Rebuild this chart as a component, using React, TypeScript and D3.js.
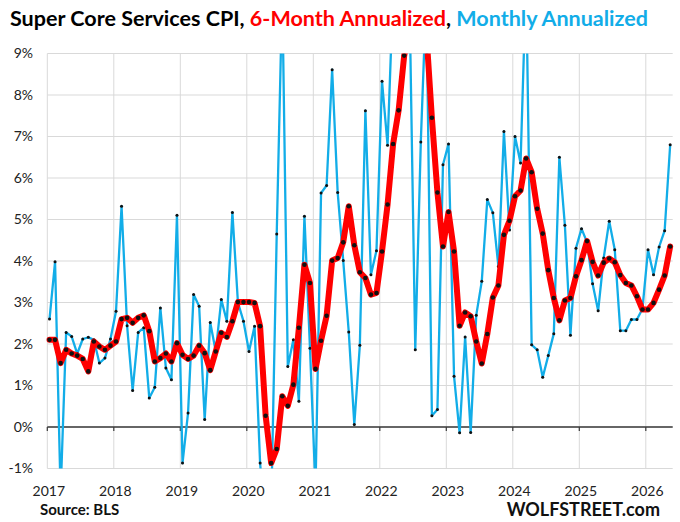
import { useMemo } from 'react';
import * as d3 from 'd3';

// Monthly observations, Jan 2017 .. May 2026 (113 months)
const START_YEAR = 2017;

// Monthly change, annualized (%). Values beyond the plot range are clipped.
const monthlyAnnualized = [
  2.6, 3.98, -1.6, 2.28, 2.18, 1.77, 2.12, 2.16, 2.1, 1.54, 1.66, 2.12,
  2.79, 5.32, 2.44, 0.88, 2.28, 2.39, 0.7, 0.96, 2.87, 1.42, 1.14, 5.1,
  -0.87, 0.34, 3.19, 2.91, 0.18, 2.52, 1.82, 3.07, 2.55, 5.17, 3.0, 2.55,
  1.82, 2.43, -0.87, -2.5, -2.0, 4.65, 10.5, 1.46, 2.1, 0.62, 5.08, 1.9,
  -1.5, 5.64, 5.82, 8.61, 5.65, 4.01, 2.29, 0.06, 1.97, 7.62, 3.67, 4.25,
  8.33, 6.79, 10.5, 9.8, 11.0, 10.0, 1.86, 6.87, 10.5, 0.27, 0.42, 6.32,
  6.82, 1.22, -0.14, 2.17, -0.13, 2.69, 3.51, 5.48, 5.16, 3.87, 7.12, 4.75,
  7.0, 6.36, 10.8, 1.98, 1.86, 1.2, 1.72, 2.25, 6.5, 4.86, 2.21, 4.31,
  4.78, 4.45, 3.45, 2.8, 4.07, 4.96, 4.27, 2.32, 2.32, 2.59, 2.59, 2.85,
  4.27, 3.67, 4.34, 4.73, 6.8,
];

// 6-month change, annualized (%)
const sixMonthAnnualized = [
  2.1, 2.1, 1.54, 1.86, 1.77, 1.72, 1.64, 1.34, 2.06, 1.94, 1.86, 1.96,
  2.06, 2.6, 2.63, 2.51, 2.63, 2.69, 2.31, 1.58, 1.66, 1.77, 1.58, 2.02,
  1.74, 1.64, 1.72, 1.96, 1.78, 1.37, 1.82, 2.27, 2.17, 2.55, 3.01, 3.01,
  3.01, 2.99, 2.43, 0.27, -0.87, -0.53, 0.74, 0.51, 1.02, 2.39, 3.91, 3.47,
  1.4, 2.08, 2.68, 4.01, 4.07, 4.45, 5.32, 4.38, 3.73, 3.59, 3.19, 3.23,
  4.23, 5.36, 6.82, 7.63, 8.95, 9.6, 9.9, 9.9, 9.5, 7.45, 5.65, 4.35,
  5.18, 4.23, 2.44, 2.76, 2.67, 2.06, 1.53, 2.24, 3.12, 3.41, 4.63, 4.97,
  5.56, 5.7, 6.47, 6.14, 5.26, 4.66, 3.78, 3.11, 2.57, 3.05, 3.11, 3.63,
  4.02, 4.48, 3.98, 3.65, 3.96, 4.06, 3.97, 3.66, 3.47, 3.41, 3.15, 2.83,
  2.83, 2.99, 3.31, 3.65, 4.35,
];

const yearTicks = [2017, 2018, 2019, 2020, 2021, 2022, 2023, 2024, 2025, 2026];
const pctTicks = [-1, 0, 1, 2, 3, 4, 5, 6, 7, 8, 9];

const RED = '#ff0000';
const BLUE = '#12ade8';
const FONT = 'Lato, "Open Sans", sans-serif';

export default function App() {
  const width = 680;
  const height = 522;

  const chart = useMemo(() => {
    const plot = { left: 47.3, right: 672.7, top: 53.5, bottom: 468.5 };
    const x = d3
      .scaleLinear()
      .domain([START_YEAR, START_YEAR + (plot.right - plot.left) / 66.5])
      .range([plot.left, plot.right]);
    const y = d3.scaleLinear().domain([-1, 9]).range([plot.bottom, plot.top]);
    // monthly points sit a little after the start of each month
    const mx = (i: number) => x(START_YEAR + (i + 0.4) / 12);
    return { plot, x, y, mx };
  }, []);

  const { plot, x, y, mx } = chart;

  const line = d3
    .line<number>()
    .x((_, i) => mx(i))
    .y((d) => y(d));

  return (
    <div style={{ position: 'absolute', left: 0, top: 0, background: '#fff' }}>
      <svg width={width} height={height} style={{ display: 'block' }}>
        <defs>
          <clipPath id="plot-clip">
            <rect x={plot.left - 6} y={plot.top} width={plot.right - plot.left + 12} height={plot.bottom - plot.top} />
          </clipPath>
        </defs>

        {/* Title */}
        <text
          x={10}
          y={26}
          fontFamily={FONT}
          fontWeight={700}
          fontSize={21}
          textLength={638}
          lengthAdjust="spacingAndGlyphs"
        >
          <tspan fill="#000">Super Core Services CPI, </tspan>
          <tspan fill={RED}>6-Month Annualized</tspan>
          <tspan fill="#000">, </tspan>
          <tspan fill={BLUE}>Monthly Annualized</tspan>
        </text>

        {/* Horizontal gridlines */}
        {pctTicks.map((v) => (
          <line
            key={`h-${v}`}
            x1={plot.left}
            x2={plot.right}
            y1={y(v)}
            y2={y(v)}
            stroke="#d9d9d9"
            strokeWidth={1}
          />
        ))}

        {/* Vertical gridlines, one per year */}
        {yearTicks.map((yr) => (
          <line
            key={`v-${yr}`}
            x1={x(yr)}
            x2={x(yr)}
            y1={plot.top}
            y2={plot.bottom}
            stroke="#d9d9d9"
            strokeWidth={1}
          />
        ))}

        {/* Zero line with tick marks */}
        <line x1={plot.left} x2={plot.right} y1={y(0)} y2={y(0)} stroke="#3a3a3a" strokeWidth={1.3} />
        {yearTicks.map((yr) => (
          <line
            key={`t-${yr}`}
            x1={x(yr)}
            x2={x(yr)}
            y1={y(0)}
            y2={y(0) + 4}
            stroke="#3a3a3a"
            strokeWidth={1.2}
          />
        ))}

        {/* Y labels */}
        {pctTicks.map((v) => (
          <text
            key={`yl-${v}`}
            x={33}
            y={y(v)}
            dy="0.35em"
            textAnchor="end"
            fontFamily={FONT}
            fontSize={14}
            fill="#222"
          >
            {`${v}%`}
          </text>
        ))}

        {/* X labels */}
        {yearTicks.map((yr) => (
          <text
            key={`xl-${yr}`}
            x={x(yr) + 1.5}
            y={496}
            textAnchor="middle"
            fontFamily={FONT}
            fontSize={14}
            fill="#222"
          >
            {yr}
          </text>
        ))}

        <g clipPath="url(#plot-clip)">
          {/* Monthly annualized */}
          <path d={line(monthlyAnnualized) ?? undefined} fill="none" stroke={BLUE} strokeWidth={2.3} strokeLinejoin="round" />
          {monthlyAnnualized.map((v, i) => (
            <circle key={`bd-${i}`} cx={mx(i)} cy={y(v)} r={1.5} fill="#111" />
          ))}

          {/* 6-month annualized */}
          <path
            d={line(sixMonthAnnualized) ?? undefined}
            fill="none"
            stroke={RED}
            strokeWidth={6}
            strokeLinejoin="round"
            strokeLinecap="round"
          />
          {sixMonthAnnualized.map((v, i) => (
            <circle key={`rd-${i}`} cx={mx(i)} cy={y(v)} r={2.3} fill="#111" />
          ))}
        </g>

        {/* Footer */}
        <text x={40} y={515} fontFamily={FONT} fontWeight={700} fontSize={15} fill="#111">
          Source: BLS
        </text>
        <text x={660} y={516} textAnchor="end" fontFamily={FONT} fontWeight={700} fontSize={18} fill="#111">
          WOLFSTREET.com
        </text>
      </svg>
    </div>
  );
}
